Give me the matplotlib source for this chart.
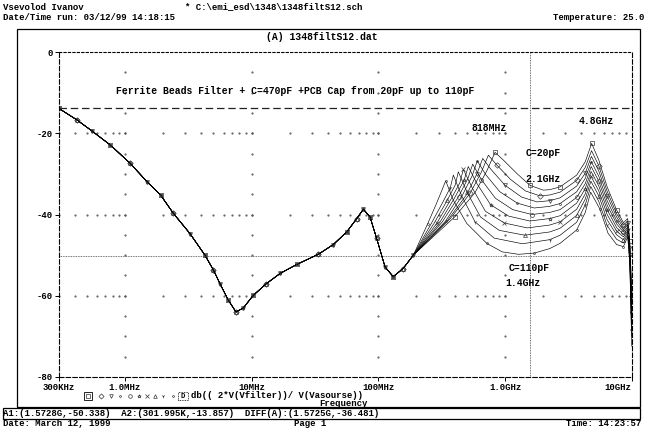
import matplotlib
matplotlib.use('Agg')
import matplotlib.pyplot as plt
from matplotlib.lines import Line2D
from matplotlib.patches import Rectangle

plt.rcParams['font.family'] = ['Liberation Mono', 'DejaVu Sans Mono', 'DejaVu Sans']
plt.rcParams['axes.unicode_minus'] = False

# --- data ---
# common part of all traces (Hz, dB)
low_freq = [300e3, 417e3, 547e3, 767e3, 1.10e6, 1.49e6, 1.91e6, 2.41e6, 3.26e6,
            4.28e6, 5.0e6, 5.62e6, 6.55e6, 7.53e6, 8.6e6, 10.3e6, 13.1e6, 16.8e6,
            22.7e6, 33.6e6, 44.1e6, 56.3e6, 67.6e6, 76.2e6, 86e6, 97e6, 113e6,
            131e6, 157e6, 189e6]
low_db = [-13.86, -16.7, -19.4, -22.9, -27.4, -31.9, -35.2, -39.7, -44.7,
          -50.0, -53.7, -57.0, -61.1, -64.0, -63.0, -59.9, -57.0, -54.5,
          -52.3, -49.8, -47.4, -44.3, -41.0, -38.7, -40.6, -45.9, -52.9,
          -55.3, -53.3, -50.0]

caps_pf = [20, 30, 40, 50, 60, 70, 80, 90, 100, 110]

# high-frequency part of each trace (GHz, dB)
f_20 = [0.40, 0.58, 0.72, 0.834, 0.97, 1.24, 1.57, 2.0, 2.25, 2.72, 3.68, 4.3, 4.83, 5.5, 6.4, 7.6, 8.6, 9.3, 9.65, 10.0]
db_20 = [-40.6, -34.6, -29.2, -24.7, -26.6, -29.9, -32.8, -34.0, -33.9, -33.2, -30.3, -27.0, -22.5, -26.6, -33.2, -38.9, -42.0, -41.0, -46.5, -58]
f_30 = [0.37, 0.53, 0.65, 0.739, 0.86, 1.10, 1.45, 1.88, 2.25, 2.72, 3.68, 4.3, 4.82, 5.5, 6.4, 7.6, 8.6, 9.3, 9.65, 10.0]
db_30 = [-41.0, -34.8, -29.6, -25.4, -27.8, -31.3, -34.2, -35.4, -35.2, -34.5, -31.6, -28.4, -24.3, -28.0, -34.3, -39.8, -42.6, -41.6, -47.0, -60]
f_40 = [0.355, 0.50, 0.60, 0.667, 0.78, 1.0, 1.35, 1.79, 2.25, 2.72, 3.68, 4.3, 4.81, 5.5, 6.4, 7.6, 8.6, 9.3, 9.65, 10.0]
db_40 = [-41.3, -35.0, -30.0, -26.2, -29.0, -32.8, -35.7, -36.9, -36.6, -35.9, -33.0, -29.8, -25.7, -29.3, -35.4, -40.6, -43.2, -42.1, -47.5, -62]
f_50 = [0.34, 0.46, 0.55, 0.604, 0.705, 0.91, 1.25, 1.70, 2.25, 2.72, 3.68, 4.3, 4.80, 5.5, 6.4, 7.6, 8.6, 9.3, 9.65, 10.0]
db_50 = [-41.6, -35.3, -30.5, -26.8, -30.2, -34.4, -37.2, -38.4, -38.0, -37.3, -34.4, -31.1, -27.0, -30.6, -36.6, -41.5, -43.8, -42.6, -48.0, -63]
f_60 = [0.32, 0.43, 0.51, 0.556, 0.65, 0.84, 1.15, 1.63, 2.25, 2.72, 3.68, 4.3, 4.79, 5.5, 6.4, 7.6, 8.6, 9.3, 9.65, 10.0]
db_60 = [-41.8, -35.6, -31.1, -27.6, -31.4, -36.0, -38.8, -40.0, -39.5, -38.8, -35.8, -32.4, -28.2, -31.8, -37.7, -42.3, -44.3, -43.1, -48.5, -64]
f_70 = [0.305, 0.40, 0.475, 0.513, 0.60, 0.77, 1.07, 1.57, 2.25, 2.72, 3.68, 4.3, 4.78, 5.5, 6.4, 7.6, 8.6, 9.3, 9.65, 10.0]
db_70 = [-42.0, -35.9, -31.6, -28.2, -32.4, -37.6, -40.4, -41.6, -41.0, -40.3, -37.2, -33.6, -29.4, -33.0, -38.8, -43.2, -44.9, -43.5, -49.0, -66]
f_80 = [0.29, 0.375, 0.44, 0.469, 0.55, 0.70, 0.99, 1.50, 2.25, 2.72, 3.68, 4.3, 4.77, 5.5, 6.4, 7.6, 8.6, 9.3, 9.65, 10.0]
db_80 = [-42.1, -36.2, -32.2, -28.9, -33.4, -39.2, -42.1, -43.3, -42.6, -41.8, -38.7, -34.9, -30.6, -34.2, -40.0, -44.1, -45.5, -44.0, -49.8, -67]
f_90 = [0.275, 0.35, 0.405, 0.428, 0.50, 0.64, 0.90, 1.43, 2.25, 2.72, 3.68, 4.3, 4.76, 5.5, 6.4, 7.6, 8.6, 9.3, 9.65, 10.0]
db_90 = [-42.2, -36.5, -32.7, -29.5, -34.4, -40.6, -43.9, -45.1, -44.3, -43.4, -40.2, -36.2, -31.8, -35.4, -41.3, -45.0, -46.2, -44.4, -50.5, -68]
f_100 = [0.262, 0.325, 0.37, 0.391, 0.455, 0.58, 0.82, 1.37, 2.25, 2.72, 3.68, 4.3, 4.75, 5.5, 6.4, 7.6, 8.6, 9.3, 9.65, 10.0]
db_100 = [-42.2, -36.8, -33.4, -30.3, -35.4, -41.8, -45.8, -47.2, -46.2, -45.1, -41.9, -37.6, -33.1, -36.8, -42.7, -46.1, -47.0, -44.9, -51.2, -70]
f_110 = [0.245, 0.285, 0.318, 0.340, 0.391, 0.499, 0.717, 0.95, 1.28, 1.70, 2.25, 2.72, 3.68, 4.3, 4.74, 5.6, 6.5, 7.6, 8.6, 9.3, 9.65, 10.0]
db_110 = [-42.3, -37.6, -34.0, -31.7, -36.5, -42.2, -47.1, -49.2, -49.8, -49.5, -48.4, -47.1, -43.8, -39.5, -34.5, -38.6, -44.6, -47.4, -47.9, -45.5, -52.0, -72]

hf_freq = [f_20, f_30, f_40, f_50, f_60, f_70, f_80, f_90, f_100, f_110]
hf_db = [db_20, db_30, db_40, db_50, db_60, db_70, db_80, db_90, db_100, db_110]

x_ticks = [300e3, 1e6, 10e6, 100e6, 1e9, 10e9]
x_labels = ['300KHz', '1.0MHz', '10MHz', '100MHz', '1.0GHz', '10GHz']
y_ticks = [0, -20, -40, -60, -80]

cursor_a1 = (1.5728e9, -50.338)
cursor_a2 = (301.995e3, -13.857)

markers = ['s', 'D', 'v', '.', 'o', '*', 'x', '^', '1', '.']

W, H = 645, 429
def fx(px):
    return px / W
def fy(py):
    return 1 - py / H

fig = plt.figure(figsize=(6.45, 4.29), dpi=100)
ax = fig.add_axes([fx(58.7), fy(377), fx(631.7) - fx(58.7), fy(52) - fy(377)])
ax.set_xscale('log')
ax.set_xlim(300e3, 10e9)
ax.set_ylim(-80, 0)

# PSpice style dotted grid: dots at minor positions along major lines
decades = [1e5, 1e6, 1e7, 1e8, 1e9]
minor_x = [m * d for d in decades for m in range(1, 10) if 300e3 <= m * d <= 10e9]
for yv in [-20, -40, -60]:
    ax.plot(minor_x, [yv] * len(minor_x), ls='none', marker='.', ms=1.1, color='#555555')
minor_y = list(range(-75, 0, 5))
for xv in [1e6, 1e7, 1e8, 1e9]:
    ax.plot([xv] * len(minor_y), minor_y, ls='none', marker='.', ms=1.1, color='#555555')

# cursors
ax.axhline(cursor_a2[1], color='#222222', lw=0.9, ls=(0, (6, 3)))
ax.axhline(cursor_a1[1], color='#444444', lw=0.6, ls=(0, (1, 1)))
ax.axvline(cursor_a1[0], color='#444444', lw=0.6, ls=(0, (1, 1)))

# traces
for k, c in enumerate(caps_pf):
    xs = low_freq + [v * 1e9 for v in hf_freq[k]]
    ys = low_db + hf_db[k]
    ax.plot(xs, ys, color='black', lw=0.45, marker=markers[k], ms=2.8,
            mfc='none', mec='#3a3a3a', mew=0.5, markevery=(k % 3, 3))

for s in ax.spines.values():
    s.set_linewidth(0.8)
ax.spines['top'].set_linestyle((0, (2, 2)))
ax.spines['left'].set_linestyle((0, (4, 2)))
ax.spines['bottom'].set_linestyle((0, (4, 2)))
ax.spines['right'].set_linestyle((0, (4, 2)))

ax.set_xticks(x_ticks)
ax.set_xticklabels(x_labels)
ax.xaxis.set_minor_locator(matplotlib.ticker.NullLocator())
ax.set_yticks(y_ticks)
ax.set_yticklabels([str(v) for v in y_ticks])
ax.tick_params(axis='both', labelsize=6.5, length=3, width=0.7, pad=1)
for lab in ax.get_xticklabels() + ax.get_yticklabels():
    lab.set_fontweight('bold')
ax.get_xticklabels()[-1].set_ha('right')

# annotations inside the plot
txt = dict(fontsize=7, fontweight='bold', va='center')
fig.text(fx(295), fy(91), 'Ferrite Beads Filter + C=470pF +PCB Cap from 20pF up to 110pF', ha='center', **txt)
fig.text(fx(489), fy(128), '818MHz', ha='center', **txt)
fig.text(fx(596), fy(121), '4.8GHz', ha='center', **txt)
fig.text(fx(543), fy(153), 'C=20pF', ha='center', **txt)
fig.text(fx(543), fy(179), '2.1GHz', ha='center', **txt)
fig.text(fx(529), fy(268), 'C=110pF', ha='center', **txt)
fig.text(fx(523), fy(283), '1.4GHz', ha='center', **txt)

# page frame and header
hdr = dict(fontsize=6.5, fontweight='bold', va='center')
fig.text(fx(3), fy(7), 'Vsevolod Ivanov', ha='left', **hdr)
fig.text(fx(3), fy(17), 'Date/Time run: 03/12/99 14:18:15', ha='left', **hdr)
fig.text(fx(185), fy(7), '* C:\\emi_esd\\1348\\1348filtS12.sch', ha='left', **hdr)
fig.text(fx(644), fy(17), 'Temperature: 25.0', ha='right', **hdr)
fig.add_artist(Rectangle((fx(17), fy(407)), fx(640) - fx(17), fy(29) - fy(407),
                         transform=fig.transFigure, fill=False, lw=0.9, ec='black'))
fig.text(fx(322), fy(37), '(A) 1348filtS12.dat', ha='center', fontsize=7, fontweight='bold', va='center')

# legend row
leg_x = [88, 101, 111, 120, 130, 139, 147, 155, 163, 173]
for k, xv in enumerate(leg_x):
    fig.add_artist(Line2D([fx(xv)], [fy(396)], transform=fig.transFigure, marker=markers[k],
                          ms=2.6, mfc='none', mec='#333333', mew=0.5, ls='none'))
fig.add_artist(Rectangle((fx(84), fy(400)), fx(8), fy(392) - fy(400), transform=fig.transFigure,
                         fill=False, lw=0.6, ec='black'))
fig.add_artist(Rectangle((fx(178), fy(400)), fx(10), fy(392) - fy(400), transform=fig.transFigure,
                         fill=False, lw=0.6, ec='black', ls=(0, (1, 1))))
fig.text(fx(183), fy(396), 'D', ha='center', va='center', fontsize=5, fontweight='bold')
fig.text(fx(191), fy(396), 'db(( 2*V(Vfilter))/ V(Vasourse))', ha='left', va='center', fontsize=6.5, fontweight='bold')
fig.text(fx(343), fy(404), 'Frequency', ha='center', va='center', fontsize=6.5, fontweight='bold')

# status bar
fig.add_artist(Rectangle((fx(3), fy(419)), fx(637), fy(408) - fy(419), transform=fig.transFigure,
                         fill=False, lw=0.9, ec='black'))
fig.text(fx(3), fy(413.5), 'A1:(1.5728G,-50.338)  A2:(301.995K,-13.857)  DIFF(A):(1.5725G,-36.481)',
         ha='left', va='center', fontsize=6.5, fontweight='bold')
fig.text(fx(3), fy(424), 'Date: March 12, 1999', ha='left', va='center', fontsize=6.5, fontweight='bold')
fig.text(fx(310), fy(424), 'Page 1', ha='center', va='center', fontsize=6.5, fontweight='bold')
fig.text(fx(641), fy(424), 'Time: 14:23:57', ha='right', va='center', fontsize=6.5, fontweight='bold')

fig.savefig('out.png', dpi=100)
